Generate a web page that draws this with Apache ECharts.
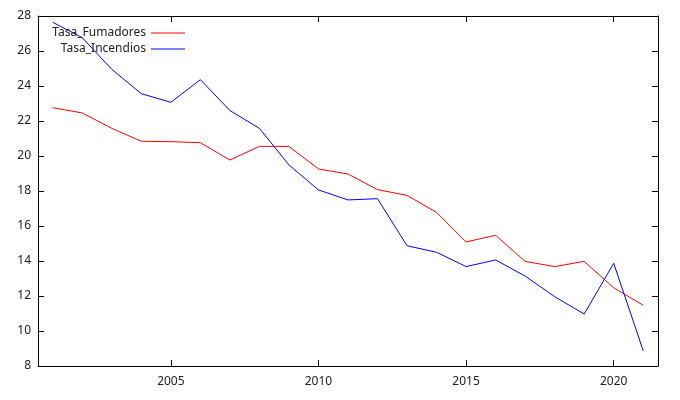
<!DOCTYPE html>
<html>
<head>
<meta charset="utf-8">
<script src="https://cdn.jsdelivr.net/npm/echarts@6/dist/echarts.min.js"></script>
<style>html,body{margin:0;padding:0;background:#fff}#c{width:680px;height:400px}</style>
</head>
<body>
<div id="c"></div>
<script>
const years = [2001,2002,2003,2004,2005,2006,2007,2008,2009,2010,2011,2012,2013,2014,2015,2016,2017,2018,2019,2020,2021];
const tasaFumadores = [22.76,22.46,21.58,20.84,20.82,20.76,19.77,20.55,20.55,19.26,18.97,18.08,17.75,16.78,15.09,15.47,13.98,13.68,13.98,12.47,11.47];
const tasaIncendios = [27.64,26.76,24.95,23.56,23.07,24.36,22.6,21.58,19.49,18.06,17.49,17.56,14.87,14.5,13.68,14.06,13.14,11.96,10.97,13.87,8.87];
const xTicks = [2005,2010,2015,2020];
const seriesNames = ['Tasa_Fumadores','Tasa_Incendios'];

const font = 'Noto Sans';
const chart = echarts.init(document.getElementById('c'), null, {renderer:'canvas'});
const axisLine = {show:true, lineStyle:{color:'#000', width:1}};
const tickIn = {show:true, inside:true, length:6, lineStyle:{color:'#000', width:1}};
const legendCommon = {orient:'vertical', right:495, align:'right', icon:'rect', itemWidth:34, itemHeight:1,
  textStyle:{fontFamily:font, fontSize:12, color:'#222'}};
chart.setOption({
  animation:false,
  backgroundColor:'#fff',
  grid:{left:38, right:22, top:16, bottom:34},
  legend:[
    Object.assign({data:[seriesNames[0]], top:22}, legendCommon, {right:490}),
    Object.assign({data:[seriesNames[1]], top:38}, legendCommon, {right:490})
  ],
  xAxis:[
    {type:'value', position:'bottom', min:2000.5, max:2021.5, axisLine:axisLine,
     axisTick:Object.assign({customValues:xTicks}, tickIn),
     axisLabel:{customValues:xTicks, formatter:v=>String(v), color:'#222', fontFamily:font, fontSize:12, margin:10},
     splitLine:{show:false}},
    {type:'value', position:'top', min:2000.5, max:2021.5, axisLine:axisLine,
     axisTick:Object.assign({customValues:xTicks}, tickIn),
     axisLabel:{show:false}, splitLine:{show:false}}
  ],
  yAxis:[
    {type:'value', position:'left', min:8, max:28, interval:2, axisLine:axisLine, axisTick:tickIn,
     axisLabel:{color:'#222', fontFamily:font, fontSize:12, margin:7}, splitLine:{show:false}},
    {type:'value', position:'right', min:8, max:28, interval:2, axisLine:axisLine, axisTick:tickIn,
     axisLabel:{show:false}, splitLine:{show:false}}
  ],
  series:[
    {name:seriesNames[0], type:'line', symbol:'none', color:'#ff0000', lineStyle:{width:1, color:'#ff0000'},
     data:years.map((y,i)=>[y,tasaFumadores[i]])},
    {name:seriesNames[1], type:'line', symbol:'none', color:'#0000ff', lineStyle:{width:1, color:'#0000ff'},
     data:years.map((y,i)=>[y,tasaIncendios[i]])}
  ]
});
</script>
</body>
</html>
